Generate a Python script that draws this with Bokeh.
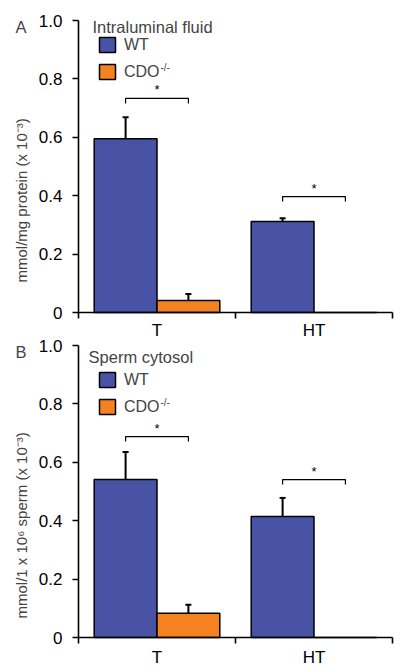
import math
from bokeh.plotting import figure
from bokeh.models import (Range1d, FixedTicker, ColumnDataSource, Whisker, TeeHead,
                          Legend, LegendItem, Label, LinearAxis)
from bokeh.embed import file_html
from bokeh.resources import INLINE
from bokeh.core.properties import value

# ---------------- data ----------------
categories = ["T", "HT"]
series_names = ["WT", "CDO"]

a_wt = [0.595, 0.312]
a_wt_err = [0.074, 0.011]
a_cdo = [0.041, 0.0]
a_cdo_err = [0.022, 0.0]
a_sig = [0.733, 0.397]          # height of significance brackets

b_wt = [0.541, 0.414]
b_wt_err = [0.094, 0.064]
b_cdo = [0.083, 0.0]
b_cdo_err = [0.029, 0.0]
b_sig = [0.688, 0.541]

y_ticks = [0, 0.2, 0.4, 0.6, 0.8, 1.0]
y_tick_labels = ["0", "0.2", "0.4", "0.6", "0.8", "1.0"]

WT_COLOR = "#4953A5"
CDO_COLOR = "#F58220"
FONT = "Liberation Sans"

# layout (pixels)
W, H = 400, 671
X0_PX, X_UNIT_PX = 78, 157
Y_UNIT_PX = 292
A_Y0_PX, B_Y0_PX = 312, 637      # pixel rows of the two zero lines

p = figure(width=W, height=H,
           x_range=Range1d(-X0_PX / X_UNIT_PX, (W - X0_PX) / X_UNIT_PX),
           y_range=Range1d((A_Y0_PX - H) / Y_UNIT_PX, A_Y0_PX / Y_UNIT_PX),
           output_backend="svg", toolbar_location=None, title_location=None,
           min_border=0)
p.extra_y_ranges = {"b": Range1d((B_Y0_PX - H) / Y_UNIT_PX, B_Y0_PX / Y_UNIT_PX)}
p.outline_line_color = None
p.grid.visible = False


def style_axes(xax, yax, label_standoff):
    n = len(categories)
    yax.fixed_location = 0
    yax.bounds = (0, 1)
    yax.ticker = FixedTicker(ticks=y_ticks)
    yax.major_label_overrides = dict(zip(y_ticks, y_tick_labels))
    yax.major_tick_out = 6
    yax.major_tick_in = 0
    yax.minor_tick_out = 0
    yax.minor_tick_in = 0
    yax.major_label_standoff = 10

    centers = [i + 0.5 for i in range(n)]
    xax.fixed_location = 0
    xax.bounds = (0, n)
    xax.ticker = FixedTicker(ticks=centers, minor_ticks=list(range(n + 1)))
    xax.major_label_overrides = dict(zip(centers, categories))
    xax.major_tick_out = 0
    xax.major_tick_in = 0
    xax.minor_tick_out = 6
    xax.minor_tick_in = 0
    xax.major_label_standoff = label_standoff

    for ax in (xax, yax):
        ax.axis_line_width = 1.6
        ax.axis_line_color = "black"
        ax.major_tick_line_width = 1.6
        ax.minor_tick_line_width = 1.6
        ax.major_tick_line_color = "black"
        ax.minor_tick_line_color = "black"
        ax.major_label_text_font = FONT
        ax.major_label_text_font_size = "17px"
        ax.major_label_text_color = "black"


def draw_panel(yr, letter, subtitle, ylabel, wt, wt_err, cdo, cdo_err, sig,
               legend_vy, sup_y, sub_x, sub_y):
    n = len(categories)
    x_wt = [i + 0.3 for i in range(n)]
    x_cdo = [i + 0.7 for i in range(n)]
    r_wt = p.vbar(x=x_wt, top=wt, bottom=0, width=0.4, fill_color=WT_COLOR,
                  line_color="black", line_width=1.5, y_range_name=yr)
    r_cdo = p.vbar(x=x_cdo, top=cdo, bottom=0, width=0.4, fill_color=CDO_COLOR,
                   line_color="black", line_width=1.5, y_range_name=yr)

    # error bars (upper only)
    xs, lo, up = [], [], []
    for xv, v, e in list(zip(x_wt, wt, wt_err)) + list(zip(x_cdo, cdo, cdo_err)):
        if e > 0:
            xs.append(xv); lo.append(v); up.append(v + e)
    src = ColumnDataSource(dict(x=xs, lower=lo, upper=up))
    p.add_layout(Whisker(source=src, base="x", lower="lower", upper="upper",
                         dimension="height", line_color="black", line_width=2,
                         upper_head=TeeHead(size=6, line_width=2, line_color="black"),
                         lower_head=None, y_range_name=yr))

    # significance brackets
    leg = 0.017
    for i in range(n):
        x0, x1, y = x_wt[i], x_cdo[i], sig[i]
        p.line(x=[x0, x0, x1, x1], y=[y - leg, y, y, y - leg],
               line_color="black", line_width=1.2, y_range_name=yr)
        p.text(x=[(x0 + x1) / 2], y=[y], text=["*"], text_align="center",
               text_baseline="bottom", y_offset=-1, text_font_size="13px",
               text_font=value(FONT), text_color="black", y_range_name=yr)

    # legend
    legend = Legend(items=[LegendItem(label=series_names[0], renderers=[r_wt]),
                           LegendItem(label=series_names[1], renderers=[r_cdo])],
                    location=(97, legend_vy), orientation="vertical",
                    glyph_width=20, glyph_height=19, label_height=19,
                    label_standoff=7, spacing=8, padding=0, margin=0,
                    border_line_alpha=0, background_fill_alpha=0,
                    label_text_font=FONT, label_text_font_size="16px")
    p.add_layout(legend)
    p.add_layout(Label(x=0.522, y=sup_y, text="-/-", text_font=FONT,
                       text_font_size="10px", text_baseline="middle", text_align="left",
                       y_range_name=yr))
    p.add_layout(Label(x=sub_x, y=sub_y, text=subtitle, text_font=FONT,
                       text_font_size="16.5px", text_baseline="alphabetic",
                       text_align="left", y_range_name=yr))

    # panel letter and y label
    p.add_layout(Label(x=-0.366, y=0.979, text=letter, text_font=FONT,
                       text_font_size="16.5px", text_baseline="alphabetic",
                       text_align="center", y_range_name=yr))
    p.add_layout(Label(x=-0.363, y=0.384, text=ylabel, angle=math.pi / 2,
                       text_font=FONT, text_font_size="15px",
                       text_baseline="middle", text_align="center", y_range_name=yr))


# panel A uses the default axes
style_axes(p.xaxis[0], p.yaxis[0], label_standoff=2)
draw_panel("default", "A", "Intraluminal fluid", "mmol/mg protein (x 10\u207b\u00b3)",
           a_wt, a_wt_err, a_cdo, a_cdo_err, a_sig,
           legend_vy=H - 81, sup_y=0.839, sub_x=0.089, sub_y=0.977)

# panel B gets its own axes on the extra y range
xb = LinearAxis(y_range_name="b")
yb = LinearAxis(y_range_name="b")
p.add_layout(xb, "below")
p.add_layout(yb, "left")
style_axes(xb, yb, label_standoff=4)
draw_panel("b", "B", "Sperm cytosol", "mmol/1 x 10\u2076 sperm (x 10\u207b\u00b3)",
           b_wt, b_wt_err, b_cdo, b_cdo_err, b_sig,
           legend_vy=H - 416, sup_y=0.805, sub_x=0.064, sub_y=0.961)

open("out.html", "w").write(file_html(p, INLINE))
